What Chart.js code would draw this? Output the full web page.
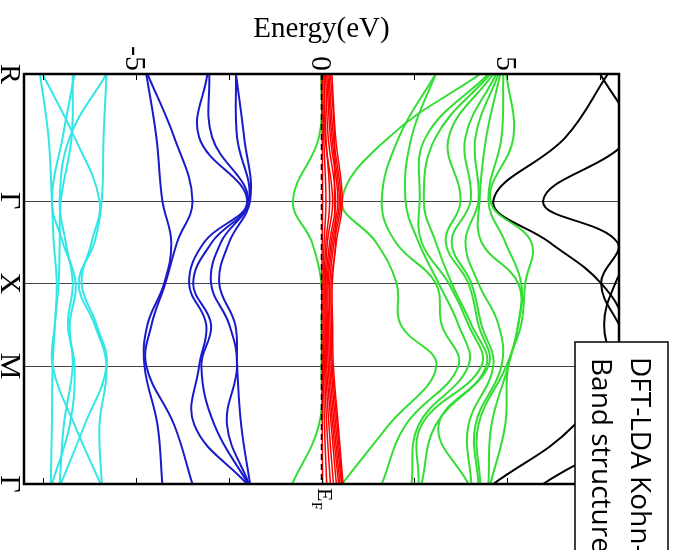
<!DOCTYPE html>
<html>
<head>
<meta charset="utf-8">
<script src="https://cdn.jsdelivr.net/npm/chart.js@4.4.1/dist/chart.umd.min.js"></script>
<style>
  html, body { margin: 0; padding: 0; background: #fff; }
</style>
</head>
<body>
<canvas id="bands" width="679" height="550"></canvas>
<script>
// k-path R - Γ - X - M - Γ, bands sampled at symmetry points and segment midpoints
const kLabels = ['R', 'Γ', 'X', 'M', 'Γ'];
const kTicks = [0, 1.533, 2.533, 3.533, 4.961];
const kGrid = [0, 0.767, 1.533, 2.033, 2.533, 3.033, 3.533, 4.247, 4.961];

const energyLabels = [-5, 0, 5];
const energyMinor = [-7.5, -5, -2.5, 0, 2.5, 5, 7.5];

// energies in eV, one row per band, one value per kGrid point
const cyanBands = [
  [-7.57, -7.34, -7.25, -7.20, -7.12, -7.17, -7.23, -7.25, -7.28],
  [-7.50, -6.64, -5.97, -6.18, -6.45, -6.05, -5.78, -6.37, -7.01],
  [-6.69, -6.72, -7.01, -7.04, -7.07, -7.17, -7.23, -6.64, -5.94],
  [-6.64, -6.96, -7.25, -6.96, -6.61, -6.77, -6.69, -6.93, -7.04],
  [-5.78, -6.77, -7.04, -6.88, -6.69, -6.82, -6.64, -6.77, -7.25],
  [-5.78, -5.86, -5.91, -6.10, -6.53, -6.10, -5.78, -5.97, -5.91]
];

const blueBands = [
  [-4.71, -4.44, -4.28, -4.04, -4.23, -4.68, -4.76, -4.41, -4.28],
  [-4.68, -3.96, -3.47, -3.88, -4.20, -4.57, -4.71, -3.96, -3.47],
  [-3.07, -3.29, -2.00, -3.15, -3.56, -3.10, -3.29, -3.42, -2.00],
  [-3.02, -2.94, -1.97, -2.94, -3.45, -2.97, -3.23, -2.88, -1.97],
  [-2.30, -2.27, -1.95, -2.70, -2.97, -2.48, -2.27, -2.54, -1.95],
  [-2.30, -2.08, -1.92, -2.48, -2.75, -2.32, -2.27, -2.16, -1.92]
];

const redBands = [
  [0.00, 0.02, 0.03, 0.02, 0.01, 0.01, 0.02, 0.02, 0.03],
  [0.03, 0.06, 0.12, 0.07, 0.04, 0.04, 0.05, 0.08, 0.14],
  [0.06, 0.12, 0.22, 0.12, 0.07, 0.07, 0.08, 0.14, 0.24],
  [0.08, 0.10, 0.30, 0.16, 0.10, 0.10, 0.11, 0.20, 0.32],
  [0.11, 0.18, 0.38, 0.22, 0.12, 0.13, 0.14, 0.26, 0.40],
  [0.14, 0.24, 0.44, 0.26, 0.15, 0.16, 0.18, 0.30, 0.46],
  [0.17, 0.28, 0.48, 0.30, 0.18, 0.19, 0.22, 0.34, 0.50],
  [0.20, 0.32, 0.52, 0.34, 0.22, 0.23, 0.26, 0.38, 0.54],
  [0.24, 0.35, 0.35, 0.38, 0.26, 0.27, 0.29, 0.42, 0.56],
  [0.28, 0.38, 0.56, 0.40, 0.29, 0.30, 0.32, 0.45, 0.58]
];

const greenBands = [
  [0.00, -0.07, -0.77, -0.26, 0.00, 0.00, 0.00, -0.07, -0.79],
  [4.27, 1.81, 0.55, 1.46, 2.02, 2.13, 3.09, 1.81, 0.55],
  [3.07, 2.08, 1.62, 1.99, 3.07, 3.23, 3.68, 2.26, 1.62],
  [3.07, 2.42, 2.26, 2.61, 3.15, 3.68, 3.95, 2.61, 2.42],
  [4.49, 2.80, 2.64, 2.69, 3.42, 3.95, 4.30, 2.69, 2.61],
  [4.54, 3.07, 2.75, 3.07, 3.50, 4.03, 4.43, 3.07, 2.69],
  [4.62, 3.42, 3.74, 3.34, 3.95, 4.22, 4.49, 3.15, 3.95],
  [4.70, 3.87, 4.01, 3.50, 4.03, 4.30, 4.62, 3.95, 4.03],
  [4.76, 4.14, 4.22, 3.87, 4.22, 4.76, 4.84, 4.14, 4.22],
  [4.81, 4.43, 4.25, 4.30, 5.29, 5.29, 4.97, 4.22, 4.27],
  [4.89, 4.84, 4.49, 4.94, 5.37, 5.29, 5.02, 4.57, 4.49],
  [4.97, 5.16, 4.54, 5.64, 5.48, 5.37, 5.02, 4.94, 4.54]
];

const blackBands = [
  [7.70, 6.56, 4.62, 6.12, 7.52, 8.10, 7.70, 6.80, 4.62],
  [8.60, 8.30, 5.96, 7.95, 7.52, 8.00, 8.60, 8.30, 5.96],
  [7.49, 8.50, 8.90, 8.50, 7.90, 7.60, 7.90, 8.60, 8.90]
];

function bandSets(bands, color, width, order) {
  return bands.map(energies => ({
    data: energies.map((e, i) => ({ x: e, y: kGrid[i] })),
    borderColor: color,
    borderWidth: width,
    order: order
  }));
}

const fermiLine = {
  data: [{ x: 0, y: kTicks[0] }, { x: 0, y: kTicks[4] }],
  borderColor: '#000',
  borderWidth: 1.5,
  borderDash: [6, 4],
  tension: 0,
  order: 0
};

function rotatedText(ctx, text, x, y, align) {
  ctx.save();
  ctx.translate(x, y);
  ctx.rotate(Math.PI / 2);
  ctx.textAlign = align;
  ctx.textBaseline = 'alphabetic';
  ctx.fillText(text, 0, 0);
  ctx.restore();
}

const frame = {
  id: 'frame',
  beforeDatasetsDraw(chart) {
    const { ctx, chartArea: a, scales: { y } } = chart;
    ctx.save();
    ctx.strokeStyle = '#444';
    ctx.lineWidth = 1;
    kTicks.slice(1, 4).forEach(k => {
      const py = Math.round(y.getPixelForValue(k)) + 0.5;
      ctx.beginPath();
      ctx.moveTo(a.left, py);
      ctx.lineTo(a.right, py);
      ctx.stroke();
    });
    ctx.restore();
  },
  afterDatasetsDraw(chart) {
    const { ctx, chartArea: a, scales: { x, y } } = chart;
    ctx.save();
    ctx.strokeStyle = '#000';
    ctx.lineWidth = 1;
    energyMinor.forEach(e => {
      const px = Math.round(x.getPixelForValue(e)) + 0.5;
      ctx.beginPath();
      ctx.moveTo(px, a.top);
      ctx.lineTo(px, a.top + 6);
      ctx.moveTo(px, a.bottom);
      ctx.lineTo(px, a.bottom - 6);
      ctx.stroke();
    });
    ctx.lineWidth = 2.5;
    ctx.strokeRect(a.left, a.top, a.right - a.left, a.bottom - a.top);

    ctx.fillStyle = '#000';
    ctx.font = '30px "Liberation Serif"';
    energyLabels.forEach(e => {
      rotatedText(ctx, String(e), x.getPixelForValue(e) - 10, a.top - 3, 'right');
    });
    kLabels.forEach((lab, i) => {
      rotatedText(ctx, lab, 1, y.getPixelForValue(kTicks[i]), 'center');
    });

    ctx.font = '29px "Liberation Serif"';
    ctx.textAlign = 'center';
    ctx.fillText('Energy(eV)', x.getPixelForValue(0), 37);

    const fx = x.getPixelForValue(0);
    ctx.font = '22px "Liberation Serif"';
    rotatedText(ctx, 'E', fx - 4, a.bottom + 4, 'left');
    ctx.font = '14px "Liberation Serif"';
    rotatedText(ctx, 'F', fx - 10, a.bottom + 18, 'left');
    ctx.restore();
  },
  afterDraw(chart) {
    const ctx = chart.ctx;
    ctx.save();
    ctx.fillStyle = '#fff';
    ctx.fillRect(575, 342, 93, 240);
    ctx.strokeStyle = '#000';
    ctx.lineWidth = 1.5;
    ctx.strokeRect(575, 342, 93, 240);
    ctx.fillStyle = '#000';
    ctx.font = '28px "Open Sans"';
    rotatedText(ctx, 'DFT-LDA Kohn-Sham', 631, 357, 'left');
    rotatedText(ctx, 'Band structure', 592, 358, 'left');
    ctx.restore();
  }
};

new Chart(document.getElementById('bands'), {
  type: 'scatter',
  data: {
    datasets: [
      fermiLine,
      ...bandSets(redBands, '#ff0000', 1.5, 1),
      ...bandSets(greenBands, '#33dd33', 2, 2),
      ...bandSets(blueBands, '#1a1acc', 2, 2),
      ...bandSets(cyanBands, '#33e6e6', 2, 2),
      ...bandSets(blackBands, '#000000', 2, 2)
    ]
  },
  options: {
    responsive: false,
    animation: false,
    layout: { padding: { left: 24, right: 60, top: 74, bottom: 66 } },
    plugins: { legend: { display: false }, tooltip: { enabled: false } },
    elements: {
      point: { radius: 0 },
      line: { tension: 0.4, capBezierPoints: false, fill: false }
    },
    datasets: { scatter: { showLine: true } },
    scales: {
      x: {
        type: 'linear', position: 'top', min: -8, max: 8,
        ticks: { display: false }, grid: { display: false }, border: { display: false },
        afterFit: s => { s.height = 0; }
      },
      y: {
        type: 'linear', reverse: true, min: kTicks[0], max: kTicks[4],
        ticks: { display: false }, grid: { display: false }, border: { display: false },
        afterFit: s => { s.width = 0; }
      }
    }
  },
  plugins: [frame]
});
</script>
</body>
</html>
